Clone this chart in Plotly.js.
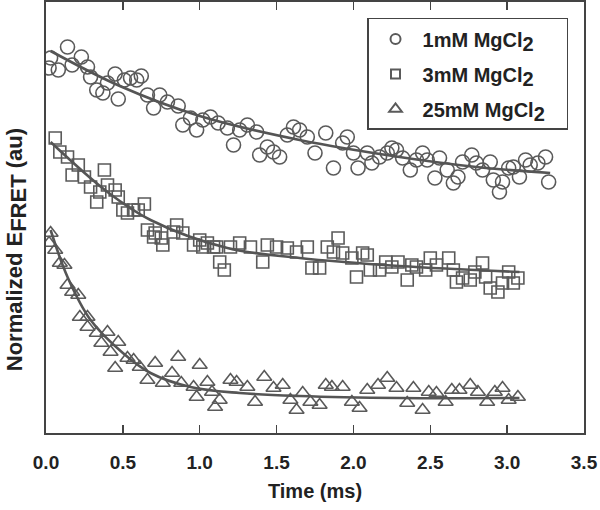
<!DOCTYPE html>
<html>
<head>
<meta charset="utf-8">
<script src="https://cdn.plot.ly/plotly-3.0.1.min.js"></script>
<style>html,body{margin:0;padding:0;background:#fff;}#chart{width:600px;height:510px;}</style>
</head>
<body>
<div id="chart"></div>
<script>
// ---- data (y in arbitrary units) ----
const seriesNames = ["1mM MgCl<sub><span style='font-size:20px'>2</span></sub>&nbsp;&nbsp;&nbsp;",
                     "3mM MgCl<sub><span style='font-size:20px'>2</span></sub>&nbsp;&nbsp;&nbsp;",
                     "25mM MgCl<sub><span style='font-size:20px'>2</span></sub>&nbsp;&nbsp;&nbsp;"];
const xTickVals = [0, 0.5, 1.0, 1.5, 2.0, 2.5, 3.0, 3.5];
const xTickText = ["0.0", "0.5", "1.0", "1.5", "2.0", "2.5", "3.0", "3.5"];

const t1 = [0.02,0.03,0.08,0.14,0.17,0.23,0.27,0.29,0.33,0.37,0.40,0.45,0.47,0.51,0.55,0.59,0.62,0.66,0.70,0.74,0.79,0.86,0.89,0.94,0.98,1.02,1.07,1.12,1.18,1.22,1.26,1.31,1.37,1.39,1.44,1.48,1.52,1.57,1.61,1.65,1.70,1.75,1.82,1.87,1.93,1.96,2.00,2.03,2.09,2.12,2.17,2.22,2.25,2.28,2.32,2.37,2.41,2.45,2.48,2.53,2.56,2.61,2.65,2.68,2.71,2.77,2.80,2.84,2.89,2.91,2.95,2.97,3.01,3.04,3.08,3.12,3.15,3.20,3.25,3.27];
const e1 = [365,375,363,386,368,376,366,356,343,340,350,359,334,353,355,353,357,338,325,338,331,327,308,315,303,313,316,310,305,288,303,308,301,278,286,281,276,298,306,303,296,280,300,265,290,296,280,265,280,270,276,280,285,283,275,263,273,280,273,255,275,263,250,256,271,278,270,263,271,253,241,251,265,266,256,273,268,270,276,251];

const t3 = [0.06,0.09,0.14,0.17,0.21,0.25,0.29,0.33,0.35,0.38,0.40,0.45,0.47,0.50,0.53,0.57,0.60,0.64,0.66,0.70,0.71,0.75,0.76,0.83,0.85,0.89,0.96,1.00,1.02,1.05,1.09,1.11,1.13,1.16,1.20,1.26,1.33,1.41,1.44,1.50,1.57,1.63,1.70,1.73,1.78,1.83,1.87,1.90,1.93,1.99,2.02,2.06,2.09,2.11,2.17,2.21,2.25,2.29,2.35,2.38,2.41,2.47,2.50,2.54,2.62,2.65,2.67,2.71,2.76,2.79,2.84,2.86,2.89,2.94,2.97,3.01,3.04,3.07];
const e3 = [295,281,276,258,268,256,246,231,241,263,248,243,236,223,220,223,223,229,203,196,200,195,188,201,208,200,188,193,186,190,186,186,171,163,186,190,186,171,188,186,185,181,186,165,165,186,181,195,180,175,156,180,178,163,163,171,166,171,153,168,166,163,175,168,175,163,151,155,153,161,170,156,145,141,150,161,150,155];

const t25 = [0.02,0.03,0.06,0.09,0.12,0.14,0.17,0.21,0.22,0.27,0.27,0.33,0.36,0.40,0.42,0.45,0.47,0.53,0.57,0.61,0.66,0.71,0.76,0.82,0.86,0.88,0.96,0.98,1.00,1.05,1.08,1.10,1.13,1.20,1.24,1.31,1.36,1.42,1.48,1.54,1.59,1.63,1.67,1.72,1.78,1.82,1.86,1.93,1.99,2.04,2.09,2.16,2.22,2.28,2.35,2.39,2.45,2.49,2.54,2.60,2.64,2.69,2.76,2.81,2.87,2.92,2.97,3.01,3.07];
const e25 = [190,200,183,170,168,148,141,138,116,116,106,100,90,101,81,65,91,75,73,66,53,70,50,60,76,50,46,36,68,51,41,26,33,53,51,46,31,56,45,48,33,23,40,31,28,48,46,46,31,25,43,48,55,45,30,45,23,41,40,31,43,43,48,41,31,41,45,33,36];

// fitted curves
const f1x = [0.03,0.48,1.00,1.65,2.30,2.80,3.28];
const f1y = [382,347,317,293,276,266,260];
const f3x = [0.03,0.40,0.68,1.18,1.65,2.30,3.08];
const f3y = [291,241,213,185,175,167,161];
const f25x = [0.03,0.14,0.29,0.50,0.68,0.94,1.26,1.65,2.30,3.08];
const f25y = [203,156,113,80,60,46,40,37,35,35];

const symbols = ['circle-open', 'square-open', 'triangle-up-open'];
const markerColor = '#5a5a5a';
const lineColor = '#555555';
const fontFam = 'Liberation Sans, Arial, sans-serif';

function pts(x, y, symbol, size) {
  return {x: x, y: y, type: 'scatter', mode: 'markers', showlegend: false,
    marker: {symbol: symbol, size: size, color: markerColor, line: {width: 1.6, color: markerColor}}};
}
function key(name, symbol, size) {
  return {x: [null], y: [null], name: name, legendgroup: name, type: 'scatter', mode: 'markers',
    marker: {symbol: symbol, size: size, color: markerColor, line: {width: 2, color: markerColor}}};
}
function fit(x, y) {
  return {x: x, y: y, type: 'scatter', mode: 'lines', showlegend: false, hoverinfo: 'skip',
    line: {color: lineColor, width: 2.6, shape: 'spline', smoothing: 1.0}};
}

const data = [
  pts(t1, e1, symbols[0], 14),
  pts(t3, e3, symbols[1], 12),
  pts(t25, e25, symbols[2], 13),
  fit(f1x, f1y), fit(f3x, f3y), fit(f25x, f25y),
  key(seriesNames[0], symbols[0], 10),
  key(seriesNames[1], symbols[1], 9),
  key(seriesNames[2], symbols[2], 11)
];

const layout = {
  width: 600, height: 510,
  margin: {l: 46, r: 16, t: 2, b: 77},
  paper_bgcolor: '#fff', plot_bgcolor: '#fff',
  font: {family: fontFam, color: '#222'},
  showlegend: true,
  legend: {
    x: 0.5967, y: 0.963, xanchor: 'left', yanchor: 'top',
    bgcolor: '#fff', bordercolor: '#444', borderwidth: 1.5,
    font: {family: fontFam, size: 20, weight: 'bold', color: '#222'},
    traceorder: 'grouped', tracegroupgap: 6, itemwidth: 44
  },
  xaxis: {
    range: [0, 3.5], tickvals: xTickVals, ticktext: xTickText,
    ticks: 'inside', ticklen: 8, tickwidth: 1.5, tickcolor: '#444',
    showline: true, linecolor: '#444', linewidth: 2, mirror: 'ticks',
    showgrid: false, zeroline: false, ticklabelstandoff: 11,
    tickfont: {family: fontFam, size: 19, weight: 'bold', color: '#222'},
    title: {text: 'Time (ms)', font: {family: fontFam, size: 20, weight: 'bold', color: '#222'}, standoff: 12}
  },
  yaxis: {
    range: [0, 431], showticklabels: false, ticks: '',
    showline: true, linecolor: '#444', linewidth: 2, mirror: true,
    showgrid: false, zeroline: false
  },
  annotations: [{
    text: "Normalized E<sub><span style='font-size:22px'>FRET</span></sub> (au)", textangle: -90,
    xref: 'paper', yref: 'paper', x: -0.055, y: 0.425, xanchor: 'center', yanchor: 'middle',
    showarrow: false, font: {family: fontFam, size: 22, weight: 'bold', color: '#222'}
  }]
};

Plotly.newPlot('chart', data, layout, {displayModeBar: false, staticPlot: true});
</script>
</body>
</html>
